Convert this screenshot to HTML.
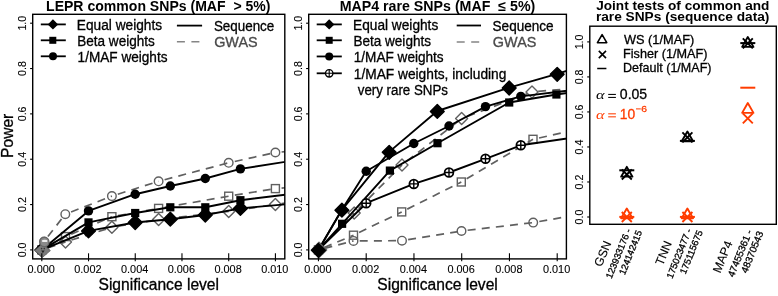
<!DOCTYPE html><html><head><meta charset="utf-8"><style>html,body{margin:0;padding:0;background:#fff;}svg{display:block;will-change:transform;}</style></head><body><svg width="778" height="296" viewBox="0 0 778 296" font-family='"Liberation Sans", sans-serif'>
<rect width="778" height="296" fill="#fff"/>
<defs><clipPath id="c1"><rect x="32.7" y="14.3" width="252.10" height="244.60"/></clipPath><clipPath id="c2"><rect x="308.7" y="14.3" width="257.70" height="244.60"/></clipPath></defs>
<g clip-path="url(#c1)">
<line x1="44.10" y1="241.50" x2="65.30" y2="214.20" stroke="#606060" stroke-width="1.7" stroke-dasharray="8 6.2" stroke-dashoffset="-6.20"/>
<line x1="65.30" y1="214.20" x2="111.90" y2="196.10" stroke="#606060" stroke-width="1.7" stroke-dasharray="8 6.2" stroke-dashoffset="-6.20"/>
<line x1="111.90" y1="196.10" x2="158.60" y2="181.30" stroke="#606060" stroke-width="1.7" stroke-dasharray="8 6.2" stroke-dashoffset="-6.20"/>
<line x1="158.60" y1="181.30" x2="228.70" y2="162.80" stroke="#606060" stroke-width="1.7" stroke-dasharray="8 6.2" stroke-dashoffset="-6.20"/>
<line x1="228.70" y1="162.80" x2="275.40" y2="152.50" stroke="#606060" stroke-width="1.7" stroke-dasharray="8 6.2" stroke-dashoffset="-6.20"/>
<line x1="275.40" y1="152.50" x2="298.80" y2="150.50" stroke="#606060" stroke-width="1.7" stroke-dasharray="8 6.2" stroke-dashoffset="-6.20"/>
<line x1="41.80" y1="249.90" x2="65.50" y2="236.60" stroke="#606060" stroke-width="1.7" stroke-dasharray="8 6.2" stroke-dashoffset="-6.20"/>
<line x1="65.50" y1="236.60" x2="111.90" y2="216.70" stroke="#606060" stroke-width="1.7" stroke-dasharray="8 6.2" stroke-dashoffset="-6.20"/>
<line x1="111.90" y1="216.70" x2="158.60" y2="208.40" stroke="#606060" stroke-width="1.7" stroke-dasharray="8 6.2" stroke-dashoffset="-6.20"/>
<line x1="158.60" y1="208.40" x2="228.70" y2="196.20" stroke="#606060" stroke-width="1.7" stroke-dasharray="8 6.2" stroke-dashoffset="-6.20"/>
<line x1="228.70" y1="196.20" x2="275.40" y2="188.60" stroke="#606060" stroke-width="1.7" stroke-dasharray="8 6.2" stroke-dashoffset="-6.20"/>
<line x1="275.40" y1="188.60" x2="298.80" y2="186.50" stroke="#606060" stroke-width="1.7" stroke-dasharray="8 6.2" stroke-dashoffset="-6.20"/>
<line x1="41.80" y1="249.90" x2="65.50" y2="241.90" stroke="#606060" stroke-width="1.7" stroke-dasharray="8 6.2" stroke-dashoffset="-6.20"/>
<line x1="65.50" y1="241.90" x2="111.90" y2="227.30" stroke="#606060" stroke-width="1.7" stroke-dasharray="8 6.2" stroke-dashoffset="-6.20"/>
<line x1="111.90" y1="227.30" x2="158.60" y2="219.50" stroke="#606060" stroke-width="1.7" stroke-dasharray="8 6.2" stroke-dashoffset="-6.20"/>
<line x1="158.60" y1="219.50" x2="228.70" y2="211.40" stroke="#606060" stroke-width="1.7" stroke-dasharray="8 6.2" stroke-dashoffset="-6.20"/>
<line x1="228.70" y1="211.40" x2="275.40" y2="204.40" stroke="#606060" stroke-width="1.7" stroke-dasharray="8 6.2" stroke-dashoffset="-6.20"/>
<line x1="275.40" y1="204.40" x2="298.80" y2="201.00" stroke="#606060" stroke-width="1.7" stroke-dasharray="8 6.2" stroke-dashoffset="-6.20"/>
<circle cx="44.10" cy="241.50" r="4.30" fill="none" stroke="#606060" stroke-width="1.4"/>
<circle cx="65.30" cy="214.20" r="4.30" fill="none" stroke="#606060" stroke-width="1.4"/>
<circle cx="111.90" cy="196.10" r="4.30" fill="none" stroke="#606060" stroke-width="1.4"/>
<circle cx="158.60" cy="181.30" r="4.30" fill="none" stroke="#606060" stroke-width="1.4"/>
<circle cx="228.70" cy="162.80" r="4.30" fill="none" stroke="#606060" stroke-width="1.4"/>
<circle cx="275.40" cy="152.50" r="4.30" fill="none" stroke="#606060" stroke-width="1.4"/>
<circle cx="298.80" cy="150.50" r="4.30" fill="none" stroke="#606060" stroke-width="1.4"/>
<rect x="37.80" y="245.90" width="8.00" height="8.00" fill="none" stroke="#606060" stroke-width="1.4"/>
<rect x="61.50" y="232.60" width="8.00" height="8.00" fill="none" stroke="#606060" stroke-width="1.4"/>
<rect x="107.90" y="212.70" width="8.00" height="8.00" fill="none" stroke="#606060" stroke-width="1.4"/>
<rect x="154.60" y="204.40" width="8.00" height="8.00" fill="none" stroke="#606060" stroke-width="1.4"/>
<rect x="224.70" y="192.20" width="8.00" height="8.00" fill="none" stroke="#606060" stroke-width="1.4"/>
<rect x="271.40" y="184.60" width="8.00" height="8.00" fill="none" stroke="#606060" stroke-width="1.4"/>
<rect x="294.80" y="182.50" width="8.00" height="8.00" fill="none" stroke="#606060" stroke-width="1.4"/>
<path d="M41.80 243.90L47.80 249.90L41.80 255.90L35.80 249.90Z" fill="none" stroke="#606060" stroke-width="1.4" stroke-linejoin="round"/>
<path d="M65.50 235.90L71.50 241.90L65.50 247.90L59.50 241.90Z" fill="none" stroke="#606060" stroke-width="1.4" stroke-linejoin="round"/>
<path d="M111.90 221.30L117.90 227.30L111.90 233.30L105.90 227.30Z" fill="none" stroke="#606060" stroke-width="1.4" stroke-linejoin="round"/>
<path d="M158.60 213.50L164.60 219.50L158.60 225.50L152.60 219.50Z" fill="none" stroke="#606060" stroke-width="1.4" stroke-linejoin="round"/>
<path d="M228.70 205.40L234.70 211.40L228.70 217.40L222.70 211.40Z" fill="none" stroke="#606060" stroke-width="1.4" stroke-linejoin="round"/>
<path d="M275.40 198.40L281.40 204.40L275.40 210.40L269.40 204.40Z" fill="none" stroke="#606060" stroke-width="1.4" stroke-linejoin="round"/>
<path d="M298.80 195.00L304.80 201.00L298.80 207.00L292.80 201.00Z" fill="none" stroke="#606060" stroke-width="1.4" stroke-linejoin="round"/>
<polyline points="41.80,249.90 88.50,210.90 135.20,194.20 170.30,186.00 205.30,178.50 240.40,168.90 298.80,159.70" fill="none" stroke="#000" stroke-width="1.9" stroke-linejoin="round"/>
<polyline points="41.80,249.90 88.50,222.40 135.20,213.00 170.30,207.30 205.30,207.30 240.40,200.20 298.80,193.00" fill="none" stroke="#000" stroke-width="1.9" stroke-linejoin="round"/>
<polyline points="41.80,249.90 88.50,230.90 135.20,222.50 170.30,219.20 205.30,215.00 240.40,208.40 298.80,203.10" fill="none" stroke="#000" stroke-width="1.9" stroke-linejoin="round"/>
<path d="M41.80 243.00L48.70 249.90L41.80 256.80L34.90 249.90Z" fill="#000" stroke="#000" stroke-width="1.4" stroke-linejoin="round"/>
<path d="M88.50 224.00L95.40 230.90L88.50 237.80L81.60 230.90Z" fill="#000" stroke="#000" stroke-width="1.4" stroke-linejoin="round"/>
<path d="M135.20 215.60L142.10 222.50L135.20 229.40L128.30 222.50Z" fill="#000" stroke="#000" stroke-width="1.4" stroke-linejoin="round"/>
<path d="M170.30 212.30L177.20 219.20L170.30 226.10L163.40 219.20Z" fill="#000" stroke="#000" stroke-width="1.4" stroke-linejoin="round"/>
<path d="M205.30 208.10L212.20 215.00L205.30 221.90L198.40 215.00Z" fill="#000" stroke="#000" stroke-width="1.4" stroke-linejoin="round"/>
<path d="M240.40 201.50L247.30 208.40L240.40 215.30L233.50 208.40Z" fill="#000" stroke="#000" stroke-width="1.4" stroke-linejoin="round"/>
<path d="M298.80 196.20L305.70 203.10L298.80 210.00L291.90 203.10Z" fill="#000" stroke="#000" stroke-width="1.4" stroke-linejoin="round"/>
<rect x="37.70" y="245.80" width="8.20" height="8.20" fill="#000" stroke="none" stroke-width="0"/>
<rect x="84.40" y="218.30" width="8.20" height="8.20" fill="#000" stroke="none" stroke-width="0"/>
<rect x="131.10" y="208.90" width="8.20" height="8.20" fill="#000" stroke="none" stroke-width="0"/>
<rect x="166.20" y="203.20" width="8.20" height="8.20" fill="#000" stroke="none" stroke-width="0"/>
<rect x="201.20" y="203.20" width="8.20" height="8.20" fill="#000" stroke="none" stroke-width="0"/>
<rect x="236.30" y="196.10" width="8.20" height="8.20" fill="#000" stroke="none" stroke-width="0"/>
<rect x="294.70" y="188.90" width="8.20" height="8.20" fill="#000" stroke="none" stroke-width="0"/>
<circle cx="41.80" cy="249.90" r="4.70" fill="#000" stroke="none" stroke-width="0"/>
<circle cx="88.50" cy="210.90" r="4.70" fill="#000" stroke="none" stroke-width="0"/>
<circle cx="135.20" cy="194.20" r="4.70" fill="#000" stroke="none" stroke-width="0"/>
<circle cx="170.30" cy="186.00" r="4.70" fill="#000" stroke="none" stroke-width="0"/>
<circle cx="205.30" cy="178.50" r="4.70" fill="#000" stroke="none" stroke-width="0"/>
<circle cx="240.40" cy="168.90" r="4.70" fill="#000" stroke="none" stroke-width="0"/>
<circle cx="298.80" cy="159.70" r="4.70" fill="#000" stroke="none" stroke-width="0"/>
<path d="M42.5 243.8L50.4 250.6L42.5 257.4L34.7 250.6Z" fill="#7a7a7a" stroke="#666" stroke-width="0.8"/>
<circle cx="44.4" cy="242.0" r="4.6" fill="#8a8a8a" stroke="#666" stroke-width="1.3"/>
<ellipse cx="44.7" cy="240.9" rx="2.9" ry="1.2" fill="#fff" opacity="0.85"/>
<circle cx="41.6" cy="248.6" r="0.8" fill="#333"/><circle cx="44.3" cy="248.6" r="0.8" fill="#333"/>
<path d="M41.2 250.6H44.6L42.9 253.2Z" fill="#222"/>
</g>
<rect x="32.7" y="14.3" width="252.10" height="244.60" fill="none" stroke="#000" stroke-width="1.4"/>
<line x1="30.10" y1="249.90" x2="32.70" y2="249.90" stroke="#000" stroke-width="1.1"/>
<text transform="translate(26.00,249.90) rotate(-90)" font-size="10.7" text-anchor="middle" stroke="#000" stroke-width="0.1">0.0</text>
<line x1="30.10" y1="204.56" x2="32.70" y2="204.56" stroke="#000" stroke-width="1.1"/>
<text transform="translate(26.00,204.56) rotate(-90)" font-size="10.7" text-anchor="middle" stroke="#000" stroke-width="0.1">0.2</text>
<line x1="30.10" y1="159.22" x2="32.70" y2="159.22" stroke="#000" stroke-width="1.1"/>
<text transform="translate(26.00,159.22) rotate(-90)" font-size="10.7" text-anchor="middle" stroke="#000" stroke-width="0.1">0.4</text>
<line x1="30.10" y1="113.88" x2="32.70" y2="113.88" stroke="#000" stroke-width="1.1"/>
<text transform="translate(26.00,113.88) rotate(-90)" font-size="10.7" text-anchor="middle" stroke="#000" stroke-width="0.1">0.6</text>
<line x1="30.10" y1="68.54" x2="32.70" y2="68.54" stroke="#000" stroke-width="1.1"/>
<text transform="translate(26.00,68.54) rotate(-90)" font-size="10.7" text-anchor="middle" stroke="#000" stroke-width="0.1">0.8</text>
<line x1="30.10" y1="23.20" x2="32.70" y2="23.20" stroke="#000" stroke-width="1.1"/>
<text transform="translate(26.00,23.20) rotate(-90)" font-size="10.7" text-anchor="middle" stroke="#000" stroke-width="0.1">1.0</text>
<line x1="41.80" y1="253.3" x2="41.80" y2="261.3" stroke="#000" stroke-width="1.1"/>
<text x="41.20" y="273.2" font-size="10.9" text-anchor="middle" stroke="#000" stroke-width="0.1">0.000</text>
<line x1="88.52" y1="253.3" x2="88.52" y2="261.3" stroke="#000" stroke-width="1.1"/>
<text x="87.92" y="273.2" font-size="10.9" text-anchor="middle" stroke="#000" stroke-width="0.1">0.002</text>
<line x1="135.25" y1="253.3" x2="135.25" y2="261.3" stroke="#000" stroke-width="1.1"/>
<text x="134.65" y="273.2" font-size="10.9" text-anchor="middle" stroke="#000" stroke-width="0.1">0.004</text>
<line x1="181.97" y1="253.3" x2="181.97" y2="261.3" stroke="#000" stroke-width="1.1"/>
<text x="181.37" y="273.2" font-size="10.9" text-anchor="middle" stroke="#000" stroke-width="0.1">0.006</text>
<line x1="228.70" y1="253.3" x2="228.70" y2="261.3" stroke="#000" stroke-width="1.1"/>
<text x="228.10" y="273.2" font-size="10.9" text-anchor="middle" stroke="#000" stroke-width="0.1">0.008</text>
<line x1="275.42" y1="253.3" x2="275.42" y2="261.3" stroke="#000" stroke-width="1.1"/>
<text x="274.82" y="273.2" font-size="10.9" text-anchor="middle" stroke="#000" stroke-width="0.1">0.010</text>
<text x="46.05" y="10.70" font-size="14.3" font-weight="bold" fill="#000" textLength="224.45" lengthAdjust="spacingAndGlyphs">LEPR common SNPs (MAF&#160;&#160;&gt; 5%)</text>
<text x="158.75" y="289.50" font-size="15.6" text-anchor="middle" font-weight="normal" fill="#000" stroke="#000" stroke-width="0.3" >Significance level</text>
<text transform="translate(12.9,135.8) rotate(-90)" font-size="15.6" text-anchor="middle" stroke="#000" stroke-width="0.3">Power</text>
<line x1="40.8" y1="24.4" x2="65.8" y2="24.4" stroke="#000" stroke-width="1.8"/>
<line x1="40.8" y1="40.3" x2="65.8" y2="40.3" stroke="#000" stroke-width="1.8"/>
<line x1="40.8" y1="56.3" x2="65.8" y2="56.3" stroke="#000" stroke-width="1.8"/>
<path d="M52.95 19.20L58.15 24.40L52.95 29.60L47.75 24.40Z" fill="#000" stroke="none" stroke-width="0" stroke-linejoin="round"/>
<rect x="49.30" y="36.80" width="7.00" height="7.00" fill="#000" stroke="none" stroke-width="0"/>
<circle cx="53.00" cy="56.30" r="4.00" fill="#000" stroke="none" stroke-width="0"/>
<text x="76.87" y="29.50" font-size="13.8" font-weight="normal" fill="#000" stroke="#000" stroke-width="0.3" textLength="85.19" lengthAdjust="spacingAndGlyphs">Equal weights</text>
<text x="77.28" y="45.60" font-size="13.8" font-weight="normal" fill="#000" stroke="#000" stroke-width="0.3" textLength="77.50" lengthAdjust="spacingAndGlyphs">Beta weights</text>
<text x="77.58" y="61.50" font-size="13.8" font-weight="normal" fill="#000" stroke="#000" stroke-width="0.3" textLength="89.91" lengthAdjust="spacingAndGlyphs">1/MAF weights</text>
<line x1="176.9" y1="25.6" x2="202.1" y2="25.6" stroke="#000" stroke-width="1.8"/>
<line x1="176.9" y1="41.8" x2="200" y2="41.8" stroke="#858585" stroke-width="1.6" stroke-dasharray="8 6.5"/>
<text x="213.90" y="30.60" font-size="13.8" font-weight="normal" fill="#000" stroke="#000" stroke-width="0.3" textLength="60.39" lengthAdjust="spacingAndGlyphs">Sequence</text>
<text x="214.18" y="46.90" font-size="13.8" font-weight="normal" fill="#4a4a4a" stroke="#4a4a4a" stroke-width="0.3" textLength="43.48" lengthAdjust="spacingAndGlyphs">GWAS</text>
<g clip-path="url(#c2)">
<line x1="318.45" y1="249.90" x2="354.20" y2="213.00" stroke="#606060" stroke-width="1.7" stroke-dasharray="8 6.2" stroke-dashoffset="-6.20"/>
<line x1="354.20" y1="213.00" x2="402.00" y2="165.00" stroke="#606060" stroke-width="1.7" stroke-dasharray="8 6.2" stroke-dashoffset="-6.20"/>
<line x1="402.00" y1="165.00" x2="461.60" y2="118.60" stroke="#606060" stroke-width="1.7" stroke-dasharray="8 6.2" stroke-dashoffset="-6.20"/>
<line x1="461.60" y1="118.60" x2="532.00" y2="91.90" stroke="#606060" stroke-width="1.7" stroke-dasharray="8 6.2" stroke-dashoffset="-6.20"/>
<line x1="532.00" y1="91.90" x2="605.00" y2="85.70" stroke="#606060" stroke-width="1.7" stroke-dasharray="8 6.2" stroke-dashoffset="-6.20"/>
<line x1="318.45" y1="249.90" x2="353.50" y2="235.20" stroke="#606060" stroke-width="1.7" stroke-dasharray="8 6.2" stroke-dashoffset="-6.20"/>
<line x1="353.50" y1="235.20" x2="401.70" y2="211.90" stroke="#606060" stroke-width="1.7" stroke-dasharray="8 6.2" stroke-dashoffset="-6.20"/>
<line x1="401.70" y1="211.90" x2="461.30" y2="182.00" stroke="#606060" stroke-width="1.7" stroke-dasharray="8 6.2" stroke-dashoffset="-6.20"/>
<line x1="461.30" y1="182.00" x2="533.00" y2="139.30" stroke="#606060" stroke-width="1.7" stroke-dasharray="8 6.2" stroke-dashoffset="-6.20"/>
<line x1="533.00" y1="139.30" x2="605.00" y2="123.40" stroke="#606060" stroke-width="1.7" stroke-dasharray="8 6.2" stroke-dashoffset="-6.20"/>
<line x1="318.45" y1="249.90" x2="353.50" y2="240.90" stroke="#606060" stroke-width="1.7" stroke-dasharray="8 6.2" stroke-dashoffset="-6.20"/>
<line x1="353.50" y1="240.90" x2="402.00" y2="240.70" stroke="#606060" stroke-width="1.7" stroke-dasharray="8 6.2" stroke-dashoffset="-6.20"/>
<line x1="402.00" y1="240.70" x2="461.50" y2="231.00" stroke="#606060" stroke-width="1.7" stroke-dasharray="8 6.2" stroke-dashoffset="-6.20"/>
<line x1="461.50" y1="231.00" x2="533.20" y2="222.60" stroke="#606060" stroke-width="1.7" stroke-dasharray="8 6.2" stroke-dashoffset="-6.20"/>
<line x1="533.20" y1="222.60" x2="605.00" y2="210.00" stroke="#606060" stroke-width="1.7" stroke-dasharray="8 6.2" stroke-dashoffset="-6.20"/>
<circle cx="318.45" cy="249.90" r="4.30" fill="none" stroke="#606060" stroke-width="1.4"/>
<circle cx="353.50" cy="240.90" r="4.30" fill="none" stroke="#606060" stroke-width="1.4"/>
<circle cx="402.00" cy="240.70" r="4.30" fill="none" stroke="#606060" stroke-width="1.4"/>
<circle cx="461.50" cy="231.00" r="4.30" fill="none" stroke="#606060" stroke-width="1.4"/>
<circle cx="533.20" cy="222.60" r="4.30" fill="none" stroke="#606060" stroke-width="1.4"/>
<circle cx="605.00" cy="210.00" r="4.30" fill="none" stroke="#606060" stroke-width="1.4"/>
<rect x="314.45" y="245.90" width="8.00" height="8.00" fill="none" stroke="#606060" stroke-width="1.4"/>
<rect x="349.50" y="231.20" width="8.00" height="8.00" fill="none" stroke="#606060" stroke-width="1.4"/>
<rect x="397.70" y="207.90" width="8.00" height="8.00" fill="none" stroke="#606060" stroke-width="1.4"/>
<rect x="457.30" y="178.00" width="8.00" height="8.00" fill="none" stroke="#606060" stroke-width="1.4"/>
<rect x="529.00" y="135.30" width="8.00" height="8.00" fill="none" stroke="#606060" stroke-width="1.4"/>
<rect x="601.00" y="119.40" width="8.00" height="8.00" fill="none" stroke="#606060" stroke-width="1.4"/>
<path d="M318.45 243.90L324.45 249.90L318.45 255.90L312.45 249.90Z" fill="none" stroke="#606060" stroke-width="1.4" stroke-linejoin="round"/>
<path d="M354.20 207.00L360.20 213.00L354.20 219.00L348.20 213.00Z" fill="none" stroke="#606060" stroke-width="1.4" stroke-linejoin="round"/>
<path d="M402.00 159.00L408.00 165.00L402.00 171.00L396.00 165.00Z" fill="none" stroke="#606060" stroke-width="1.4" stroke-linejoin="round"/>
<path d="M461.60 112.60L467.60 118.60L461.60 124.60L455.60 118.60Z" fill="none" stroke="#606060" stroke-width="1.4" stroke-linejoin="round"/>
<path d="M532.00 85.90L538.00 91.90L532.00 97.90L526.00 91.90Z" fill="none" stroke="#606060" stroke-width="1.4" stroke-linejoin="round"/>
<path d="M605.00 79.70L611.00 85.70L605.00 91.70L599.00 85.70Z" fill="none" stroke="#606060" stroke-width="1.4" stroke-linejoin="round"/>
<polyline points="318.45,249.90 341.90,209.80 389.20,151.90 437.30,111.00 509.20,87.60 557.20,73.90 605.00,59.00" fill="none" stroke="#000" stroke-width="1.9" stroke-linejoin="round"/>
<polyline points="318.45,249.90 342.10,223.80 389.90,170.60 437.50,143.20 509.20,102.50 556.40,94.50 605.00,88.00" fill="none" stroke="#000" stroke-width="1.9" stroke-linejoin="round"/>
<polyline points="318.45,249.90 341.90,209.80 366.20,171.20 413.80,143.50 449.00,126.00 485.50,106.60 520.80,96.40 605.00,86.00" fill="none" stroke="#000" stroke-width="1.9" stroke-linejoin="round"/>
<polyline points="318.45,249.90 366.20,203.20 413.80,183.90 449.00,172.50 485.50,158.80 520.80,145.30 605.00,133.00" fill="none" stroke="#000" stroke-width="1.9" stroke-linejoin="round"/>
<rect x="314.35" y="245.80" width="8.20" height="8.20" fill="#000" stroke="none" stroke-width="0"/>
<rect x="338.00" y="219.70" width="8.20" height="8.20" fill="#000" stroke="none" stroke-width="0"/>
<rect x="385.80" y="166.50" width="8.20" height="8.20" fill="#000" stroke="none" stroke-width="0"/>
<rect x="433.40" y="139.10" width="8.20" height="8.20" fill="#000" stroke="none" stroke-width="0"/>
<rect x="505.10" y="98.40" width="8.20" height="8.20" fill="#000" stroke="none" stroke-width="0"/>
<rect x="552.30" y="90.40" width="8.20" height="8.20" fill="#000" stroke="none" stroke-width="0"/>
<rect x="600.90" y="83.90" width="8.20" height="8.20" fill="#000" stroke="none" stroke-width="0"/>
<circle cx="318.45" cy="249.90" r="4.70" fill="#000" stroke="none" stroke-width="0"/>
<circle cx="341.90" cy="209.80" r="4.70" fill="#000" stroke="none" stroke-width="0"/>
<circle cx="366.20" cy="171.20" r="4.70" fill="#000" stroke="none" stroke-width="0"/>
<circle cx="413.80" cy="143.50" r="4.70" fill="#000" stroke="none" stroke-width="0"/>
<circle cx="449.00" cy="126.00" r="4.70" fill="#000" stroke="none" stroke-width="0"/>
<circle cx="485.50" cy="106.60" r="4.70" fill="#000" stroke="none" stroke-width="0"/>
<circle cx="520.80" cy="96.40" r="4.70" fill="#000" stroke="none" stroke-width="0"/>
<circle cx="605.00" cy="86.00" r="4.70" fill="#000" stroke="none" stroke-width="0"/>
<circle cx="318.45" cy="249.90" r="4.40" fill="#fff" stroke="#000" stroke-width="1.75"/><path d="M314.05 249.90H322.85M318.45 245.50V254.30" stroke="#000" stroke-width="1.40"/>
<circle cx="366.20" cy="203.20" r="4.40" fill="#fff" stroke="#000" stroke-width="1.75"/><path d="M361.80 203.20H370.60M366.20 198.80V207.60" stroke="#000" stroke-width="1.40"/>
<circle cx="413.80" cy="183.90" r="4.40" fill="#fff" stroke="#000" stroke-width="1.75"/><path d="M409.40 183.90H418.20M413.80 179.50V188.30" stroke="#000" stroke-width="1.40"/>
<circle cx="449.00" cy="172.50" r="4.40" fill="#fff" stroke="#000" stroke-width="1.75"/><path d="M444.60 172.50H453.40M449.00 168.10V176.90" stroke="#000" stroke-width="1.40"/>
<circle cx="485.50" cy="158.80" r="4.40" fill="#fff" stroke="#000" stroke-width="1.75"/><path d="M481.10 158.80H489.90M485.50 154.40V163.20" stroke="#000" stroke-width="1.40"/>
<circle cx="520.80" cy="145.30" r="4.40" fill="#fff" stroke="#000" stroke-width="1.75"/><path d="M516.40 145.30H525.20M520.80 140.90V149.70" stroke="#000" stroke-width="1.40"/>
<circle cx="605.00" cy="133.00" r="4.40" fill="#fff" stroke="#000" stroke-width="1.75"/><path d="M600.60 133.00H609.40M605.00 128.60V137.40" stroke="#000" stroke-width="1.40"/>
<path d="M319.00 242.30L326.60 249.90L319.00 257.50L311.40 249.90Z" fill="#fff" stroke="#606060" stroke-width="1.4" stroke-linejoin="round"/>
<path d="M318.45 243.40L325.35 250.30L318.45 257.20L311.55 250.30Z" fill="#000" stroke="#000" stroke-width="1.4" stroke-linejoin="round"/>
<path d="M341.90 203.30L348.80 210.20L341.90 217.10L335.00 210.20Z" fill="#000" stroke="#000" stroke-width="1.4" stroke-linejoin="round"/>
<path d="M389.20 145.40L396.10 152.30L389.20 159.20L382.30 152.30Z" fill="#000" stroke="#000" stroke-width="1.4" stroke-linejoin="round"/>
<path d="M437.30 104.50L444.20 111.40L437.30 118.30L430.40 111.40Z" fill="#000" stroke="#000" stroke-width="1.4" stroke-linejoin="round"/>
<path d="M509.20 81.10L516.10 88.00L509.20 94.90L502.30 88.00Z" fill="#000" stroke="#000" stroke-width="1.4" stroke-linejoin="round"/>
<path d="M557.20 67.40L564.10 74.30L557.20 81.20L550.30 74.30Z" fill="#000" stroke="#000" stroke-width="1.4" stroke-linejoin="round"/>
<path d="M605.00 52.50L611.90 59.40L605.00 66.30L598.10 59.40Z" fill="#000" stroke="#000" stroke-width="1.4" stroke-linejoin="round"/>
</g>
<rect x="308.7" y="14.3" width="257.70" height="244.60" fill="none" stroke="#000" stroke-width="1.4"/>
<line x1="306.10" y1="249.90" x2="308.70" y2="249.90" stroke="#000" stroke-width="1.1"/>
<text transform="translate(302.00,249.90) rotate(-90)" font-size="10.7" text-anchor="middle" stroke="#000" stroke-width="0.1">0.0</text>
<line x1="306.10" y1="204.56" x2="308.70" y2="204.56" stroke="#000" stroke-width="1.1"/>
<text transform="translate(302.00,204.56) rotate(-90)" font-size="10.7" text-anchor="middle" stroke="#000" stroke-width="0.1">0.2</text>
<line x1="306.10" y1="159.22" x2="308.70" y2="159.22" stroke="#000" stroke-width="1.1"/>
<text transform="translate(302.00,159.22) rotate(-90)" font-size="10.7" text-anchor="middle" stroke="#000" stroke-width="0.1">0.4</text>
<line x1="306.10" y1="113.88" x2="308.70" y2="113.88" stroke="#000" stroke-width="1.1"/>
<text transform="translate(302.00,113.88) rotate(-90)" font-size="10.7" text-anchor="middle" stroke="#000" stroke-width="0.1">0.6</text>
<line x1="306.10" y1="68.54" x2="308.70" y2="68.54" stroke="#000" stroke-width="1.1"/>
<text transform="translate(302.00,68.54) rotate(-90)" font-size="10.7" text-anchor="middle" stroke="#000" stroke-width="0.1">0.8</text>
<line x1="306.10" y1="23.20" x2="308.70" y2="23.20" stroke="#000" stroke-width="1.1"/>
<text transform="translate(302.00,23.20) rotate(-90)" font-size="10.7" text-anchor="middle" stroke="#000" stroke-width="0.1">1.0</text>
<line x1="318.45" y1="253.3" x2="318.45" y2="261.3" stroke="#000" stroke-width="1.1"/>
<text x="317.85" y="273.2" font-size="10.9" text-anchor="middle" stroke="#000" stroke-width="0.1">0.000</text>
<line x1="366.20" y1="253.3" x2="366.20" y2="261.3" stroke="#000" stroke-width="1.1"/>
<text x="365.60" y="273.2" font-size="10.9" text-anchor="middle" stroke="#000" stroke-width="0.1">0.002</text>
<line x1="413.95" y1="253.3" x2="413.95" y2="261.3" stroke="#000" stroke-width="1.1"/>
<text x="413.35" y="273.2" font-size="10.9" text-anchor="middle" stroke="#000" stroke-width="0.1">0.004</text>
<line x1="461.70" y1="253.3" x2="461.70" y2="261.3" stroke="#000" stroke-width="1.1"/>
<text x="461.10" y="273.2" font-size="10.9" text-anchor="middle" stroke="#000" stroke-width="0.1">0.006</text>
<line x1="509.45" y1="253.3" x2="509.45" y2="261.3" stroke="#000" stroke-width="1.1"/>
<text x="508.85" y="273.2" font-size="10.9" text-anchor="middle" stroke="#000" stroke-width="0.1">0.008</text>
<line x1="557.20" y1="253.3" x2="557.20" y2="261.3" stroke="#000" stroke-width="1.1"/>
<text x="556.60" y="273.2" font-size="10.9" text-anchor="middle" stroke="#000" stroke-width="0.1">0.010</text>
<text x="339.64" y="10.70" font-size="14.3" font-weight="bold" fill="#000" textLength="195.67" lengthAdjust="spacingAndGlyphs">MAP4 rare SNPs (MAF  ≤ 5%)</text>
<text x="437.55" y="289.50" font-size="15.6" text-anchor="middle" font-weight="normal" fill="#000" stroke="#000" stroke-width="0.3" >Significance level</text>
<line x1="316.7" y1="24.4" x2="341.8" y2="24.4" stroke="#000" stroke-width="1.8"/>
<line x1="316.7" y1="40.3" x2="341.8" y2="40.3" stroke="#000" stroke-width="1.8"/>
<line x1="316.7" y1="56.45" x2="341.8" y2="56.45" stroke="#000" stroke-width="1.8"/>
<line x1="316.7" y1="73.3" x2="341.8" y2="73.3" stroke="#000" stroke-width="1.8"/>
<path d="M329.20 19.20L334.40 24.40L329.20 29.60L324.00 24.40Z" fill="#000" stroke="none" stroke-width="0" stroke-linejoin="round"/>
<rect x="325.70" y="36.80" width="7.00" height="7.00" fill="#000" stroke="none" stroke-width="0"/>
<circle cx="329.20" cy="56.45" r="4.00" fill="#000" stroke="none" stroke-width="0"/>
<circle cx="329.20" cy="73.30" r="3.70" fill="#fff" stroke="#000" stroke-width="1.4"/><path d="M325.50 73.30H332.90M329.20 69.60V77.00" stroke="#000" stroke-width="1.12"/>
<text x="353.07" y="29.90" font-size="13.8" font-weight="normal" fill="#000" stroke="#000" stroke-width="0.3" textLength="85.19" lengthAdjust="spacingAndGlyphs">Equal weights</text>
<text x="353.48" y="45.80" font-size="13.8" font-weight="normal" fill="#000" stroke="#000" stroke-width="0.3" textLength="77.50" lengthAdjust="spacingAndGlyphs">Beta weights</text>
<text x="353.78" y="62.30" font-size="13.8" font-weight="normal" fill="#000" stroke="#000" stroke-width="0.3" textLength="89.91" lengthAdjust="spacingAndGlyphs">1/MAF weights</text>
<text x="353.77" y="78.60" font-size="13.8" font-weight="normal" fill="#000" stroke="#000" stroke-width="0.3" textLength="152.61" lengthAdjust="spacingAndGlyphs">1/MAF weights, including</text>
<text x="357.73" y="95.10" font-size="13.8" font-weight="normal" fill="#000" stroke="#000" stroke-width="0.3" textLength="90.33" lengthAdjust="spacingAndGlyphs">very rare SNPs</text>
<line x1="456.7" y1="25.5" x2="481" y2="25.5" stroke="#000" stroke-width="1.8"/>
<line x1="456.7" y1="42.0" x2="479.5" y2="42.0" stroke="#858585" stroke-width="1.6" stroke-dasharray="8 6.5"/>
<text x="492.59" y="30.60" font-size="13.8" font-weight="normal" fill="#000" stroke="#000" stroke-width="0.3" textLength="61.01" lengthAdjust="spacingAndGlyphs">Sequence</text>
<text x="492.88" y="46.90" font-size="13.8" font-weight="normal" fill="#4a4a4a" stroke="#4a4a4a" stroke-width="0.3" textLength="43.48" lengthAdjust="spacingAndGlyphs">GWAS</text>
<rect x="589.8" y="26.2" width="186.50" height="198.10" fill="none" stroke="#000" stroke-width="1.4"/>
<line x1="587.20" y1="217.00" x2="589.80" y2="217.00" stroke="#000" stroke-width="1.1"/>
<text transform="translate(583.30,217.00) rotate(-90)" font-size="10.7" text-anchor="middle" stroke="#000" stroke-width="0.1">0.0</text>
<line x1="587.20" y1="181.98" x2="589.80" y2="181.98" stroke="#000" stroke-width="1.1"/>
<text transform="translate(583.30,181.98) rotate(-90)" font-size="10.7" text-anchor="middle" stroke="#000" stroke-width="0.1">0.2</text>
<line x1="587.20" y1="146.96" x2="589.80" y2="146.96" stroke="#000" stroke-width="1.1"/>
<text transform="translate(583.30,146.96) rotate(-90)" font-size="10.7" text-anchor="middle" stroke="#000" stroke-width="0.1">0.4</text>
<line x1="587.20" y1="111.94" x2="589.80" y2="111.94" stroke="#000" stroke-width="1.1"/>
<text transform="translate(583.30,111.94) rotate(-90)" font-size="10.7" text-anchor="middle" stroke="#000" stroke-width="0.1">0.6</text>
<line x1="587.20" y1="76.92" x2="589.80" y2="76.92" stroke="#000" stroke-width="1.1"/>
<text transform="translate(583.30,76.92) rotate(-90)" font-size="10.7" text-anchor="middle" stroke="#000" stroke-width="0.1">0.8</text>
<line x1="587.20" y1="41.90" x2="589.80" y2="41.90" stroke="#000" stroke-width="1.1"/>
<text transform="translate(583.30,41.90) rotate(-90)" font-size="10.7" text-anchor="middle" stroke="#000" stroke-width="0.1">1.0</text>
<text x="596.20" y="10.30" font-size="13.2" font-weight="bold" fill="#000" textLength="173.20" lengthAdjust="spacingAndGlyphs">Joint tests of common and</text>
<text x="595.91" y="21.40" font-size="13.2" font-weight="bold" fill="#000" textLength="173.47" lengthAdjust="spacingAndGlyphs">rare SNPs (sequence data)</text>
<path d="M602.10 34.64L606.75 42.68L597.45 42.68Z" fill="none" stroke="#000" stroke-width="1.6" stroke-linejoin="round"/>
<path d="M598.80 50.90L606.00 58.10M598.80 58.10L606.00 50.90" stroke="#000" stroke-width="1.6"/>
<path d="M597.20 68.50H606.40" stroke="#000" stroke-width="1.5"/>
<text x="624.04" y="43.50" font-size="12.6" font-weight="normal" fill="#000" stroke="#000" stroke-width="0.3" textLength="70.16" lengthAdjust="spacingAndGlyphs">WS (1/MAF)</text>
<text x="623.06" y="57.80" font-size="12.6" font-weight="normal" fill="#000" stroke="#000" stroke-width="0.3" textLength="84.33" lengthAdjust="spacingAndGlyphs">Fisher (1/MAF)</text>
<text x="623.07" y="72.20" font-size="12.6" font-weight="normal" fill="#000" stroke="#000" stroke-width="0.3" textLength="88.41" lengthAdjust="spacingAndGlyphs">Default (1/MAF)</text>
<text x="596.0" y="99.30" font-family="Liberation Serif" font-style="italic" font-size="13.5" fill="#000" textLength="8.6" lengthAdjust="spacingAndGlyphs">α</text>
<rect x="608.2" y="93.90" width="7.7" height="1.05" fill="#000"/>
<rect x="608.2" y="96.90" width="7.7" height="1.05" fill="#000"/>
<text x="596.0" y="118.70" font-family="Liberation Serif" font-style="italic" font-size="13.5" fill="#ff3c00" textLength="8.6" lengthAdjust="spacingAndGlyphs">α</text>
<rect x="608.2" y="113.30" width="7.7" height="1.05" fill="#ff3c00"/>
<rect x="608.2" y="116.30" width="7.7" height="1.05" fill="#ff3c00"/>
<text x="619.84" y="99.20" font-size="13.9" font-weight="normal" fill="#000" stroke="#000" stroke-width="0.3" textLength="27.34" lengthAdjust="spacingAndGlyphs">0.05</text>
<text x="619.76" y="118.70" font-size="13.9" font-weight="normal" fill="#ff3c00" stroke="#ff3c00" stroke-width="0.3" textLength="15.39" lengthAdjust="spacingAndGlyphs">10</text>
<rect x="636.0" y="108.4" width="4.8" height="1.0" fill="#ff3c00"/>
<text x="641.18" y="111.50" font-size="9.8" font-weight="normal" fill="#ff3c00" stroke="#ff3c00" stroke-width="0.3" textLength="5.77" lengthAdjust="spacingAndGlyphs">6</text>
<path d="M619.30 170.30H634.30" stroke="#000" stroke-width="2.0"/>
<path d="M626.80 166.87L632.46 176.67L621.14 176.67Z" fill="none" stroke="#000" stroke-width="1.9" stroke-linejoin="round"/>
<path d="M621.80 169.50L631.80 179.50M621.80 179.50L631.80 169.50" stroke="#000" stroke-width="1.9"/>
<path d="M679.90 140.90H694.90" stroke="#000" stroke-width="2.0"/>
<path d="M687.40 131.47L693.06 141.27L681.74 141.27Z" fill="none" stroke="#000" stroke-width="1.9" stroke-linejoin="round"/>
<path d="M682.40 132.30L692.40 142.30M682.40 142.30L692.40 132.30" stroke="#000" stroke-width="1.9"/>
<path d="M740.30 43.10H755.30" stroke="#000" stroke-width="2.0"/>
<path d="M747.80 37.07L753.46 46.87L742.14 46.87Z" fill="none" stroke="#000" stroke-width="1.9" stroke-linejoin="round"/>
<path d="M742.80 38.30L752.80 48.30M742.80 48.30L752.80 38.30" stroke="#000" stroke-width="1.9"/>
<path d="M619.30 216.90H634.30" stroke="#ff3c00" stroke-width="2.0"/>
<path d="M626.80 208.47L632.46 218.27L621.14 218.27Z" fill="none" stroke="#ff3c00" stroke-width="1.9" stroke-linejoin="round"/>
<path d="M621.80 212.00L631.80 222.00M621.80 222.00L631.80 212.00" stroke="#ff3c00" stroke-width="1.9"/>
<path d="M679.90 216.90H694.90" stroke="#ff3c00" stroke-width="2.0"/>
<path d="M687.40 208.47L693.06 218.27L681.74 218.27Z" fill="none" stroke="#ff3c00" stroke-width="1.9" stroke-linejoin="round"/>
<path d="M682.40 212.00L692.40 222.00M682.40 222.00L692.40 212.00" stroke="#ff3c00" stroke-width="1.9"/>
<path d="M740.30 87.70H755.30" stroke="#ff3c00" stroke-width="2.0"/>
<path d="M747.80 103.07L753.46 112.87L742.14 112.87Z" fill="none" stroke="#ff3c00" stroke-width="1.9" stroke-linejoin="round"/>
<path d="M742.80 113.40L752.80 123.40M742.80 123.40L752.80 113.40" stroke="#ff3c00" stroke-width="1.9"/>
<text transform="translate(611.50,243.00) rotate(-68)" font-size="12.2" text-anchor="end" stroke="#000" stroke-width="0.1">GSN</text>
<text transform="translate(632.30,227.90) rotate(-68)" font-size="9.4" text-anchor="end" stroke="#000" stroke-width="0.3">123933176 -&#160;</text>
<text transform="translate(642.31,231.95) rotate(-68)" font-size="9.4" text-anchor="end" stroke="#000" stroke-width="0.3">124142415</text>
<text transform="translate(672.10,243.00) rotate(-68)" font-size="12.2" text-anchor="end" stroke="#000" stroke-width="0.1">TNN</text>
<text transform="translate(692.90,227.90) rotate(-68)" font-size="9.4" text-anchor="end" stroke="#000" stroke-width="0.3">175023477 -&#160;</text>
<text transform="translate(702.91,231.95) rotate(-68)" font-size="9.4" text-anchor="end" stroke="#000" stroke-width="0.3">175115675</text>
<text transform="translate(732.70,243.00) rotate(-68)" font-size="12.2" text-anchor="end" stroke="#000" stroke-width="0.1">MAP4</text>
<text transform="translate(753.50,228.90) rotate(-68)" font-size="9.9" text-anchor="end" stroke="#000" stroke-width="0.3">47455361 -&#160;</text>
<text transform="translate(763.51,232.95) rotate(-68)" font-size="9.9" text-anchor="end" stroke="#000" stroke-width="0.3">48370543</text>
</svg></body></html>
